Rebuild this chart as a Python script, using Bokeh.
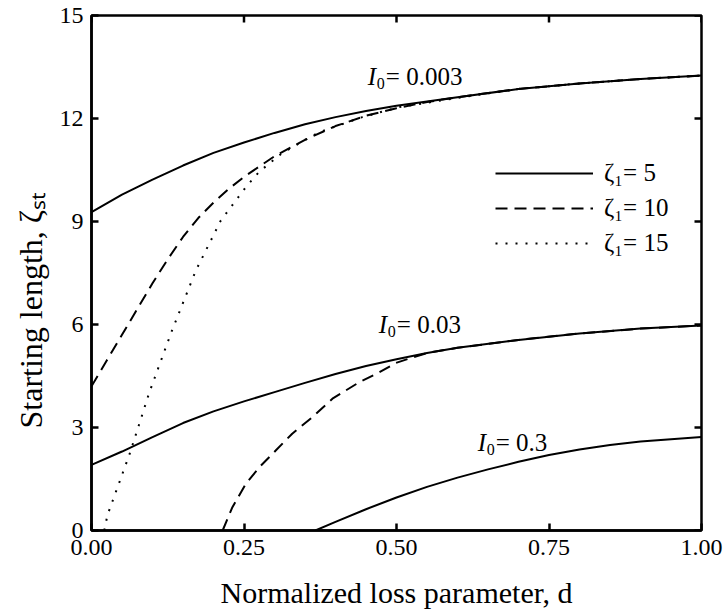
import math
from bokeh.plotting import figure
from bokeh.models import Range1d, Label, Legend, LegendItem, FixedTicker, Title
from bokeh.embed import file_html
from bokeh.resources import INLINE

FONT = "Liberation Serif"

# ---------------- data ----------------
x_ticks = [0.0, 0.25, 0.5, 0.75, 1.0]
x_tick_labels = ["0.00", "0.25", "0.50", "0.75", "1.00"]
y_ticks = [0, 3, 6, 9, 12, 15]
x_min, x_max = 0.0, 1.0
y_min, y_max = 0.0, 15.0

# I0 = 0.003
d_a_z5 = [0.0, 0.05, 0.10, 0.15, 0.20, 0.25, 0.30, 0.35, 0.40, 0.45, 0.50, 0.60, 0.70, 0.80, 0.90, 1.00]
s_a_z5 = [9.27, 9.78, 10.22, 10.63, 11.0, 11.3, 11.58, 11.83, 12.04, 12.22, 12.37, 12.62, 12.86, 13.02, 13.15, 13.25]
d_a_z10 = [0.0, 0.025, 0.05, 0.075, 0.10, 0.125, 0.15, 0.175, 0.20, 0.225, 0.25, 0.30, 0.35, 0.40, 0.45, 0.50, 0.55, 0.60, 0.70, 0.80, 0.90, 1.00]
s_a_z10 = [4.2, 4.95, 5.7, 6.45, 7.2, 7.9, 8.55, 9.1, 9.55, 9.95, 10.3, 10.9, 11.38, 11.78, 12.08, 12.3, 12.48, 12.62, 12.86, 13.02, 13.15, 13.25]
d_a_z15 = [0.021, 0.026, 0.0625, 0.095, 0.131, 0.171, 0.212, 0.253, 0.275, 0.313, 0.373, 0.444, 0.504, 0.60, 0.70, 0.80, 0.90, 1.00]
s_a_z15 = [0.0, 0.44, 2.23, 4.03, 5.78, 7.57, 9.03, 10.0, 10.45, 11.0, 11.6, 12.04, 12.33, 12.6, 12.86, 13.02, 13.15, 13.25]

# I0 = 0.03
d_b_z5 = [0.0, 0.05, 0.10, 0.15, 0.20, 0.25, 0.30, 0.35, 0.40, 0.45, 0.50, 0.55, 0.60, 0.70, 0.80, 0.90, 1.00]
s_b_z5 = [1.91, 2.3, 2.72, 3.13, 3.47, 3.76, 4.03, 4.3, 4.56, 4.79, 4.99, 5.17, 5.32, 5.55, 5.74, 5.88, 5.97]
d_b_z10 = [0.215, 0.231, 0.253, 0.275, 0.302, 0.329, 0.362, 0.395, 0.439, 0.472, 0.499, 0.528, 0.55, 0.60, 0.70, 0.80, 0.90, 1.00]
s_b_z10 = [0.0, 0.68, 1.36, 1.84, 2.33, 2.82, 3.3, 3.84, 4.32, 4.61, 4.88, 5.05, 5.17, 5.32, 5.55, 5.74, 5.88, 5.97]

# I0 = 0.3
d_c_z5 = [0.367, 0.40, 0.45, 0.50, 0.55, 0.60, 0.65, 0.70, 0.75, 0.80, 0.85, 0.90, 0.95, 1.00]
s_c_z5 = [0.0, 0.25, 0.62, 0.96, 1.27, 1.54, 1.78, 2.0, 2.2, 2.36, 2.49, 2.59, 2.66, 2.72]

legend_labels = ["ζ₁= 5", "ζ₁= 10", "ζ₁= 15"]
curve_labels = ["= 0.003", "= 0.03", "= 0.3"]
curve_label_x = [0.453, 0.471, 0.633]
curve_label_y = [13.22, 6.0, 2.57]
x_title = "Normalized loss parameter, d"
y_title = "Starting length, ζₛₜ"

# ---------------- figure ----------------
p = figure(width=723, height=615, x_range=Range1d(x_min, x_max), y_range=Range1d(y_min, y_max),
           output_backend="svg", toolbar_location=None,
           min_border_left=91, min_border_right=22, min_border_top=15, min_border_bottom=85)
p.background_fill_color = "white"
p.border_fill_color = "white"
p.xgrid.visible = False
p.ygrid.visible = False
p.outline_line_color = "black"
p.outline_line_width = 2.5

p.xaxis.ticker = FixedTicker(ticks=x_ticks)
p.xaxis.major_label_overrides = {t: l for t, l in zip(x_ticks, x_tick_labels)}
p.yaxis.ticker = FixedTicker(ticks=y_ticks)

for ax in (p.xaxis[0], p.yaxis[0]):
    ax.axis_line_width = 2.5
    ax.axis_line_color = "black"
    ax.major_tick_in = 7
    ax.major_tick_out = 0
    ax.major_tick_line_width = 2.5
    ax.minor_tick_line_color = None
    ax.major_label_text_font = FONT
    ax.major_label_text_font_size = "24px"
    ax.major_label_text_color = "black"
    ax.axis_label_text_font = FONT
    ax.axis_label_text_font_style = "normal"
    ax.axis_label_text_color = "black"

p.xaxis.major_label_standoff = 9
p.yaxis.major_label_standoff = 8
p.xaxis.axis_label = x_title
p.xaxis.axis_label_text_font_size = "30px"
p.xaxis.axis_label_standoff = 18

# y title as a left-side title, starting above the frame bottom as in the reference
p.add_layout(Title(text=y_title, align="left", offset=102, standoff=16,
                   text_font=FONT, text_font_size="32px", text_font_style="normal",
                   text_color="black"), "left")

# inward ticks on the top and right edges (dash markers, half clipped by the frame)
p.scatter(x=x_ticks, y=[y_max] * len(x_ticks), marker="dash", angle=math.pi / 2,
          size=14, line_color="black", line_width=2.5)
p.scatter(x=[x_max] * len(y_ticks), y=y_ticks, marker="dash",
          size=14, line_color="black", line_width=2.5)

LW = 2
DASH = "12 7"
DOT = "2 8"
r_a5 = p.line(d_a_z5, s_a_z5, line_color="black", line_width=LW)
r_a10 = p.line(d_a_z10, s_a_z10, line_color="black", line_width=LW, line_dash=DASH)
r_a15 = p.line(d_a_z15, s_a_z15, line_color="black", line_width=LW, line_dash=DOT)
p.line(d_b_z5, s_b_z5, line_color="black", line_width=LW)
p.line(d_b_z10, s_b_z10, line_color="black", line_width=LW, line_dash=DASH)
p.line(d_c_z5, s_c_z5, line_color="black", line_width=LW)

legend = Legend(items=[LegendItem(label=legend_labels[0], renderers=[r_a5]),
                       LegendItem(label=legend_labels[1], renderers=[r_a10]),
                       LegendItem(label=legend_labels[2], renderers=[r_a15])],
                location=(404, 273), glyph_width=98, glyph_height=20, label_height=20,
                label_standoff=11, spacing=7, padding=0, margin=0,
                label_text_font=FONT, label_text_font_size="25px", label_text_color="black",
                border_line_alpha=0, background_fill_alpha=0)
p.add_layout(legend)

for txt, lx, ly in zip(curve_labels, curve_label_x, curve_label_y):
    p.add_layout(Label(x=lx, y=ly, text="I", text_font=FONT, text_font_style="italic",
                       text_font_size="25px", text_baseline="alphabetic", text_color="black"))
    p.add_layout(Label(x=lx, y=ly, text="0", text_font=FONT, text_font_size="16px",
                       x_offset=9, y_offset=-7, text_baseline="alphabetic", text_color="black"))
    p.add_layout(Label(x=lx, y=ly, text=txt, text_font=FONT, text_font_size="25px",
                       x_offset=18, text_baseline="alphabetic", text_color="black"))

open("out.html", "w").write(file_html(p, INLINE))
